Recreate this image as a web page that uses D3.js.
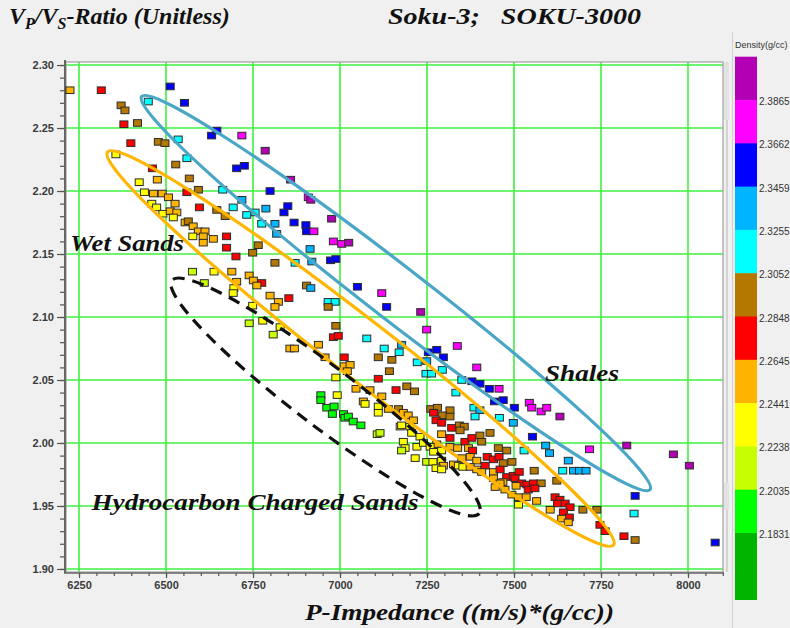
<!DOCTYPE html>
<html><head><meta charset="utf-8">
<script src="https://cdn.jsdelivr.net/npm/d3@7"></script>
<style>body{margin:0;background:#f0f0f0;} svg{display:block}</style>
</head><body><svg id="c" width="790" height="628"></svg>
<script>
// P-Impedance ((m/s)*(g/cc))
const impedance = [6224,6314,6512,6371,6382,6449,6553,6379,6418,6399,6478,6497,6535,6631,6646,6718,6356,6560,6785,6461,6528,6703,6725,6423,6475,6567,6858,6438,6464,6489,6507,6560,6593,6663,6799,6459,6473,6526,6718,6909,6916,6596,6646,6693,6787,6850,6491,6512,6531,6521,6670,6732,6756,6839,6976,6555,6564,6578,6775,6813,6868,6902,6593,6612,6607,6577,6636,6674,6818,6904,6925,6607,6674,6765,6749,6981,7005,7025,6914,6701,6813,6871,6919,6973,6988,6576,6638,6689,6739,6610,6703,6751,6775,6695,6761,6904,6916,7050,7120,6693,6799,6853,6823,6813,6749,6966,6986,6966,7134,6739,6778,6808,6828,6856,6869,6938,6957,6988,6981,6995,7012,7012,7029,7021,6988,7077,7127,7110,7149,7142,7110,7161,6945,6945,6992,6962,6983,6978,7010,7014,7024,7038,7060,7046,7086,7067,7072,7110,7110,7139,7168,7107,7115,7173,7232,7249,7170,7177,7222,7247,7254,7192,7214,7120,7337,7393,7278,7297,7249,7294,7263,7350,7379,7402,7429,7457,7333,7444,7469,7501,7261,7280,7269,7316,7295,7316,7385,7402,7388,7458,7498,7276,7292,7321,7343,7357,7345,7182,7196,7211,7177,7201,7206,7230,7292,7316,7359,7379,7402,7407,7431,7369,7278,7182,7187,7177,7221,7240,7259,7269,7292,7316,7338,7381,7455,7479,7423,7441,7457,7374,7393,7350,7216,7249,7267,7292,7297,7326,7340,7353,7374,7393,7417,7469,7441,7460,7479,7498,7407,7276,7292,7578,7632,7553,7591,7602,7529,7717,7824,7656,7640,7671,7688,7707,7494,7558,7515,7503,7522,7537,7556,7578,7623,7506,7541,7560,7468,7474,7494,7513,7535,7565,7513,7618,7632,7625,7647,7661,7604,7642,7659,7637,7656,7698,7738,7747,7762,7958,8004,7848,7845,7816,7848,8078,7544,7551,7594,7441,7460,7446];
// Vp/Vs ratio
const vpvs = [2.280,2.280,2.283,2.268,2.264,2.271,2.270,2.253,2.254,2.238,2.239,2.238,2.241,2.244,2.248,2.244,2.229,2.226,2.232,2.218,2.221,2.218,2.220,2.207,2.209,2.210,2.209,2.199,2.198,2.198,2.195,2.199,2.201,2.201,2.200,2.190,2.187,2.190,2.193,2.195,2.193,2.187,2.185,2.187,2.186,2.188,2.182,2.184,2.183,2.179,2.180,2.181,2.183,2.183,2.178,2.175,2.176,2.172,2.174,2.174,2.175,2.173,2.168,2.168,2.164,2.164,2.162,2.164,2.166,2.168,2.168,2.159,2.155,2.157,2.151,2.160,2.158,2.159,2.154,2.148,2.143,2.143,2.144,2.145,2.146,2.136,2.136,2.136,2.133,2.127,2.128,2.129,2.127,2.123,2.125,2.125,2.123,2.124,2.119,2.119,2.117,2.115,2.112,2.108,2.109,2.112,2.112,2.108,2.108,2.095,2.097,2.086,2.092,2.075,2.075,2.078,2.068,2.093,2.084,2.085,2.068,2.061,2.062,2.057,2.052,2.083,2.075,2.068,2.066,2.057,2.051,2.042,2.038,2.034,2.038,2.028,2.029,2.023,2.023,2.020,2.021,2.017,2.014,2.043,2.042,2.033,2.031,2.029,2.024,2.027,2.027,2.007,2.008,2.013,2.104,2.090,2.072,2.078,2.064,2.055,2.072,2.045,2.041,2.037,2.077,2.060,2.074,2.068,2.065,2.058,2.055,2.050,2.049,2.047,2.043,2.043,2.040,2.033,2.034,2.028,2.027,2.028,2.024,2.026,2.022,2.021,2.028,2.026,2.021,2.020,2.016,2.018,2.016,2.012,2.014,2.013,2.010,2.024,2.022,2.018,2.014,2.013,2.008,2.005,2.007,2.004,2.001,2.004,2.006,2.001,2.008,1.996,1.999,2.001,1.996,1.994,1.997,2.000,1.997,1.993,1.994,1.997,1.996,1.994,1.996,1.994,1.989,1.987,1.989,1.989,1.986,1.988,1.988,1.985,1.985,1.986,1.982,1.983,1.982,1.981,1.981,1.979,1.982,1.984,1.977,1.979,1.973,1.974,1.977,1.980,1.979,2.025,2.021,2.005,1.998,1.992,1.994,1.995,1.998,1.986,1.978,1.978,1.978,1.978,1.985,1.978,1.977,1.972,1.968,1.967,1.968,1.968,1.970,1.966,1.963,1.964,1.969,1.963,1.959,1.957,1.957,1.954,1.951,1.957,1.955,1.952,1.952,1.949,1.947,1.945,1.941,1.940,1.937,1.947,1.947,1.935,1.930,1.991,1.982,1.958,1.944,1.926,1.923,1.921,2.032,2.028,2.028,1.972,1.968,1.965];
// Density (g/cc)
const density = [2.254,2.275,2.356,2.295,2.295,2.315,2.356,2.275,2.295,2.275,2.295,2.295,2.315,2.356,2.356,2.376,2.234,2.315,2.395,2.275,2.295,2.356,2.356,2.234,2.254,2.295,2.395,2.234,2.254,2.254,2.254,2.275,2.295,2.315,2.356,2.234,2.234,2.254,2.336,2.376,2.395,2.275,2.295,2.315,2.336,2.356,2.234,2.254,2.254,2.234,2.295,2.315,2.315,2.356,2.395,2.254,2.295,2.254,2.315,2.336,2.356,2.356,2.254,2.254,2.254,2.234,2.254,2.275,2.336,2.356,2.376,2.254,2.275,2.295,2.295,2.376,2.376,2.395,2.336,2.275,2.295,2.315,2.336,2.356,2.356,2.214,2.234,2.254,2.254,2.214,2.254,2.254,2.275,2.234,2.254,2.295,2.336,2.356,2.376,2.234,2.254,2.275,2.254,2.254,2.234,2.315,2.315,2.295,2.356,2.214,2.234,2.214,2.234,2.254,2.254,2.254,2.254,2.295,2.275,2.275,2.275,2.254,2.254,2.254,2.234,2.315,2.315,2.295,2.295,2.295,2.275,2.275,2.193,2.193,2.234,2.193,2.193,2.193,2.193,2.193,2.193,2.193,2.193,2.254,2.254,2.254,2.234,2.234,2.234,2.254,2.295,2.214,2.214,2.234,2.395,2.376,2.315,2.336,2.315,2.315,2.356,2.295,2.295,2.254,2.376,2.376,2.356,2.356,2.336,2.315,2.315,2.315,2.356,2.356,2.356,2.376,2.315,2.356,2.356,2.356,2.295,2.295,2.275,2.295,2.295,2.295,2.315,2.336,2.315,2.315,2.336,2.275,2.275,2.275,2.295,2.295,2.295,2.254,2.254,2.254,2.234,2.234,2.234,2.234,2.254,2.275,2.275,2.275,2.295,2.295,2.295,2.254,2.254,2.234,2.234,2.214,2.234,2.234,2.234,2.234,2.234,2.254,2.254,2.275,2.295,2.295,2.275,2.275,2.275,2.254,2.254,2.254,2.234,2.214,2.234,2.234,2.254,2.254,2.234,2.234,2.254,2.254,2.275,2.295,2.254,2.275,2.275,2.275,2.254,2.234,2.234,2.376,2.395,2.356,2.336,2.336,2.315,2.376,2.395,2.336,2.315,2.336,2.336,2.336,2.295,2.295,2.275,2.275,2.275,2.275,2.275,2.295,2.295,2.254,2.275,2.275,2.254,2.254,2.254,2.254,2.254,2.254,2.234,2.275,2.275,2.275,2.275,2.275,2.254,2.275,2.275,2.254,2.254,2.295,2.295,2.275,2.275,2.395,2.395,2.356,2.315,2.275,2.295,2.356,2.376,2.376,2.376,2.254,2.254,2.254];

const xTicks = [6250,6500,6750,7000,7250,7500,7750,8000];
const yTicks = [1.90,1.95,2.00,2.05,2.10,2.15,2.20,2.25,2.30];
const densityBreaks = [2.1831,2.2035,2.2238,2.2441,2.2645,2.2848,2.3052,2.3255,2.3459,2.3662,2.3865];
const densityColors = ["#00b400","#00ff00","#c8ff00","#ffff00","#ffb400","#ff0000","#b47800","#00ffff","#00b4ff","#0000ff","#ff00ff","#b400b4"];

// annotation zones: tips in data units, half-width in px
const zones = [
  {name:"Shales", p1:[6430,2.275], p2:[7891,1.963], hw:27, color:"#4aa6c6", dash:null},
  {name:"Wet Sands", p1:[6332,2.231], p2:[7786,1.919], hw:29, color:"#ffb600", dash:null},
  {name:"Hydrocarbon Charged Sands", p1:[6517,2.129], p2:[7400,1.944], hw:30, color:"#111", dash:"12,8"}
];
const zoneLabels = [
  {text:"Wet Sands", at:[6224,2.152], len:114},
  {text:"Shales", at:[7589,2.049], len:74},
  {text:"Hydrocarbon Charged Sands", at:[6286,1.947], len:327}
];

const svg = d3.select("#c");
const L=66, R=723, T=62, B=572;
const x = d3.scaleLinear().domain([6212.6, 8100.6]).range([L, R]);
const y = d3.scaleLinear().domain([1.8976, 2.3024]).range([B, T]);
const color = d3.scaleThreshold().domain(densityBreaks).range(densityColors);

// plot background
svg.append("rect").attr("x",L).attr("y",T).attr("width",R-L).attr("height",B-T).attr("fill","#fff");

// grid
const grid = svg.append("g").attr("stroke","#3ff03f").attr("stroke-width",1.6);
grid.selectAll(".vx").data(xTicks).join("line")
  .attr("x1",d=>x(d)).attr("x2",d=>x(d)).attr("y1",T).attr("y2",B);
grid.selectAll(".hy").data(yTicks).join("line")
  .attr("y1",d=>y(d)).attr("y2",d=>y(d)).attr("x1",L).attr("x2",R);

// frame
svg.append("rect").attr("x",L).attr("y",T).attr("width",R-L).attr("height",B-T)
  .attr("fill","none").attr("stroke","#a0a0a0").attr("stroke-width",1.2);
svg.append("line").attr("x1",L-1).attr("x2",L-1).attr("y1",T-2).attr("y2",B+1).attr("stroke","#666").attr("stroke-width",2);
svg.append("line").attr("x1",L-2).attr("x2",R+1).attr("y1",B+1).attr("y2",B+1).attr("stroke","#666").attr("stroke-width",1.5);

// axes
const tickFont = "bold 11px 'Liberation Sans', Arial, sans-serif";
const yAx = svg.append("g").attr("transform",`translate(${L-2},0)`)
  .call(d3.axisLeft(y).tickValues(yTicks).tickFormat(d3.format(".2f")).tickSize(7).tickPadding(3));
const yMin = svg.append("g").attr("transform",`translate(${L-2},0)`)
  .call(d3.axisLeft(y).tickValues(d3.range(190,231).map(v=>v/100)).tickFormat("").tickSize(4));
const xAx = svg.append("g").attr("transform",`translate(0,${B+1})`)
  .call(d3.axisBottom(x).tickValues(xTicks).tickFormat(d3.format("d")).tickSize(5).tickPadding(3));
const xMin = svg.append("g").attr("transform",`translate(0,${B+1})`)
  .call(d3.axisBottom(x).tickValues(d3.range(6250,8101,50)).tickFormat("").tickSize(3));
[yAx,yMin,xAx,xMin].forEach(g=>{
  g.select(".domain").remove();
  g.selectAll("line").attr("stroke","#555").attr("stroke-width",1.2);
  g.selectAll("text").attr("fill","#3a3a3a").style("font",tickFont);
});

// zones (ellipses)
zones.forEach(z=>{
  const a=[x(z.p1[0]),y(z.p1[1])], b=[x(z.p2[0]),y(z.p2[1])];
  const cx=(a[0]+b[0])/2, cy=(a[1]+b[1])/2;
  const rx=Math.hypot(b[0]-a[0],b[1]-a[1])/2;
  const ang=Math.atan2(b[1]-a[1],b[0]-a[0])*180/Math.PI;
  z.el = {cx,cy,rx,ang};
});

// points
const pts = impedance.map((v,i)=>({x:v,y:vpvs[i],d:density[i]}));
svg.append("g").selectAll("rect").data(pts).join("rect")
  .attr("x",d=>x(d.x)-4).attr("y",d=>y(d.y)-3.3).attr("width",8).attr("height",6.6)
  .attr("fill",d=>color(d.d)).attr("stroke","#2b2b2b").attr("stroke-width",1);

// ellipse outlines on top of points
svg.append("g").selectAll("ellipse").data(zones).join("ellipse")
  .attr("cx",d=>d.el.cx).attr("cy",d=>d.el.cy).attr("rx",d=>d.el.rx).attr("ry",d=>d.hw)
  .attr("transform",d=>`rotate(${d.el.ang},${d.el.cx},${d.el.cy})`)
  .attr("fill","none").attr("stroke",d=>d.color).attr("stroke-width",3.2)
  .attr("stroke-dasharray",d=>d.dash);

// zone labels
svg.append("g").selectAll("text").data(zoneLabels).join("text")
  .attr("x",d=>x(d.at[0])).attr("y",d=>y(d.at[1]))
  .attr("textLength",d=>d.len).attr("lengthAdjust","spacingAndGlyphs")
  .style("font","italic bold 24px 'Liberation Serif', 'Times New Roman', serif")
  .attr("fill","#111").text(d=>d.text);

// titles
const titleFont = "italic bold 24px 'Liberation Serif', 'Times New Roman', serif";
const t1 = svg.append("text").attr("x",9).attr("y",24).style("font",titleFont).attr("fill","#111");
t1.append("tspan").text("V");
t1.append("tspan").text("P").attr("dy",5).style("font-size","16px");
t1.append("tspan").text("/V").attr("dy",-5);
t1.append("tspan").text("S").attr("dy",5).style("font-size","16px");
t1.append("tspan").text("-Ratio (Unitless)").attr("dy",-5);
svg.append("text").attr("x",388).attr("y",24).style("font",titleFont).attr("fill","#111")
  .attr("textLength",253).attr("lengthAdjust","spacingAndGlyphs").attr("xml:space","preserve")
  .text("Soku-3;   SOKU-3000");
svg.append("text").attr("x",305).attr("y",620).style("font","italic bold 24px 'Liberation Serif', 'Times New Roman', serif")
  .attr("fill","#111").attr("textLength",309).attr("lengthAdjust","spacingAndGlyphs")
  .text("P-Impedance ((m/s)*(g/cc))");

// right scroll strip
svg.append("line").attr("x1",727).attr("x2",727).attr("y1",62).attr("y2",572).attr("stroke","#b8b8b8").attr("stroke-width",1);
svg.append("rect").attr("x",724).attr("y",63).attr("width",5).attr("height",57).attr("fill","#e2e2e2");
svg.append("rect").attr("x",724).attr("y",483).attr("width",5).attr("height",27).attr("fill","#e2e2e2");
svg.append("line").attr("x1",732.5).attr("x2",732.5).attr("y1",32).attr("y2",628).attr("stroke","#d0d0d0");

// colour bar
const cbTop=56.7, cbH=43.3, cbX=735, cbW=22;
const cbData = densityColors.slice().reverse();
svg.append("g").selectAll("rect").data(cbData).join("rect")
  .attr("x",cbX).attr("y",(d,i)=>cbTop+i*cbH).attr("width",cbW)
  .attr("height",(d,i)=> i===cbData.length-1 ? 600-(cbTop+i*cbH) : cbH+0.5)
  .attr("fill",d=>d);
svg.append("g").selectAll("text").data(densityBreaks.slice().reverse()).join("text")
  .attr("x",cbX+cbW+2).attr("y",(d,i)=>cbTop+(i+1)*cbH+5)
  .style("font","10px 'Liberation Sans', Arial, sans-serif").attr("fill","#333")
  .text(d=>d.toFixed(4));
svg.append("text").attr("x",735).attr("y",48).style("font","9px 'Liberation Sans', Arial, sans-serif")
  .attr("fill","#333").text("Density(g/cc)");
</script></body></html>
